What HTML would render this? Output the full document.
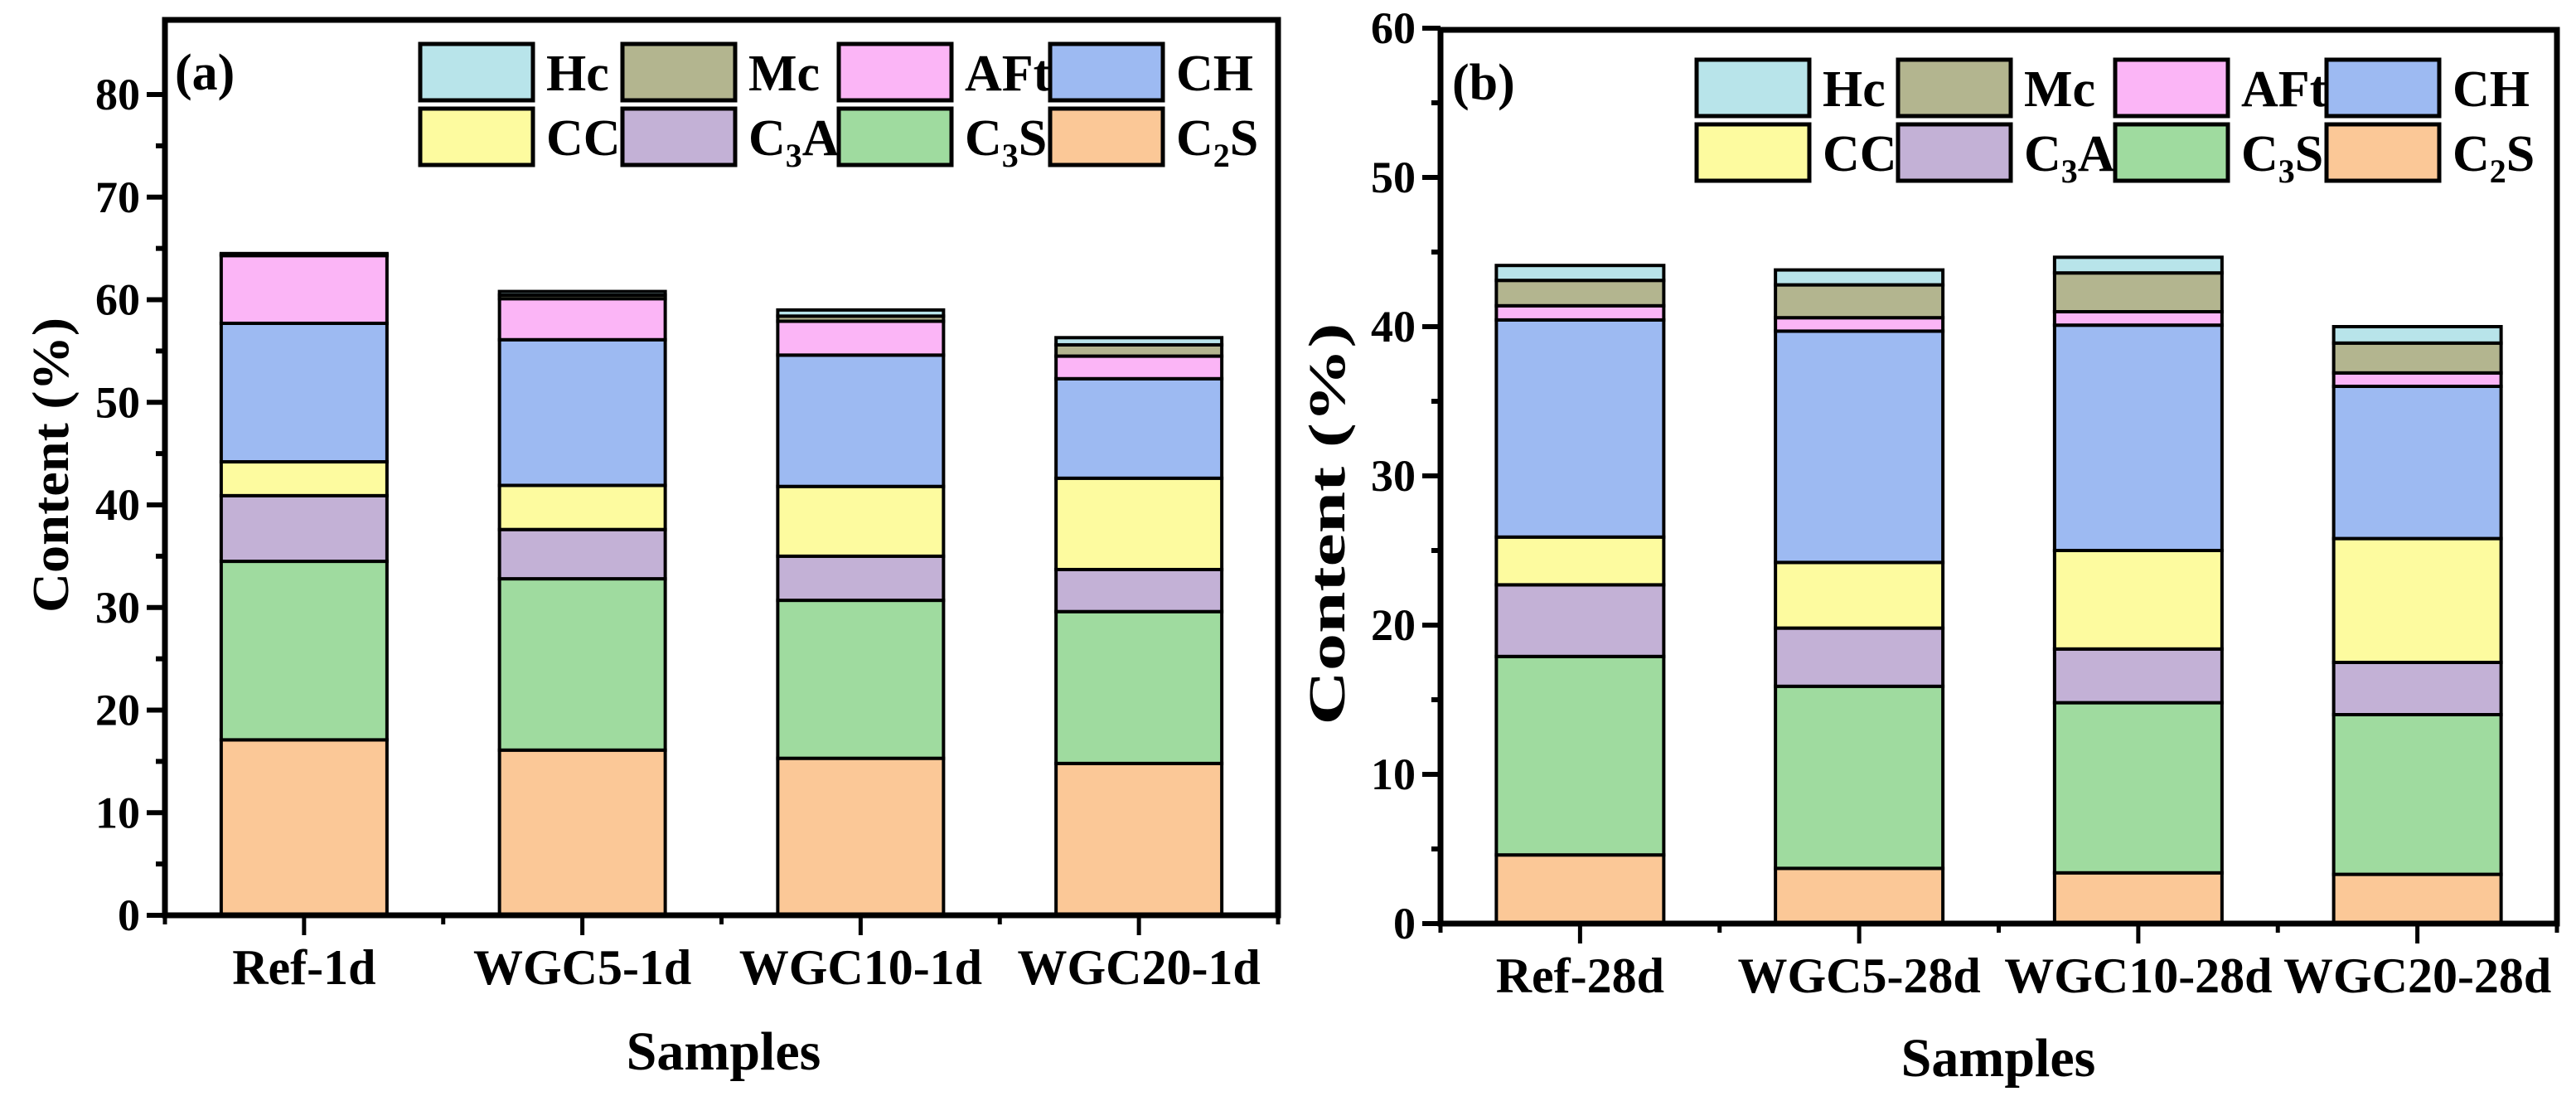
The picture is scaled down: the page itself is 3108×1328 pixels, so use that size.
<!DOCTYPE html>
<html><head><meta charset="utf-8"><style>
html,body{margin:0;padding:0;background:#fff;}
svg{display:block;}
text{font-family:"Liberation Serif",serif;font-weight:bold;fill:#000;}
</style></head>
<body>
<svg id="chart" width="3108" height="1328" viewBox="0 0 3108 1328" xmlns="http://www.w3.org/2000/svg"></svg>
<script>
const phases = ["C2S","C3S","C3A","CC","CH","AFt","Mc","Hc"];
const phaseColors = ["#fbc897","#9fdb9f","#c3b1d6","#fdfb9f","#9dbaf2","#fbb5f6","#b3b58f","#b8e4ea"];
const categoriesA = ["Ref-1d","WGC5-1d","WGC10-1d","WGC20-1d"];
const categoriesB = ["Ref-28d","WGC5-28d","WGC10-28d","WGC20-28d"];
// values per sample, ordered C2S,C3S,C3A,CC,CH,AFt,Mc,Hc
const valuesA = [
  [17.1,17.4,6.4,3.3,13.5,6.6,0.1,0.1],
  [16.1,16.7,4.8,4.3,14.2,4.0,0.35,0.35],
  [15.3,15.4,4.3,6.8,12.8,3.3,0.5,0.6],
  [14.8,14.8,4.1,8.9,9.7,2.2,1.1,0.7]
];
const valuesB = [
  [4.6,13.3,4.8,3.2,14.55,0.95,1.7,1.0],
  [3.7,12.2,3.9,4.4,15.5,0.9,2.2,1.0],
  [3.4,11.4,3.6,6.6,15.1,0.9,2.6,1.05],
  [3.3,10.7,3.5,8.3,10.2,0.9,2.0,1.1]
];
const ticksA = [0,10,20,30,40,50,60,70,80];
const ticksB = [0,10,20,30,40,50,60];

const NS="http://www.w3.org/2000/svg";
const svg=document.getElementById('chart');
function mk(tag,attrs,parent){const e=document.createElementNS(NS,tag);for(const k in attrs)e.setAttribute(k,attrs[k]);(parent||svg).appendChild(e);return e;}

function legendLabel(g,x,y,name){
  const t=mk('text',{x:x,y:y,'font-size':62},g);
  if(name==="C3A"||name==="C3S"||name==="C2S"){
    t.appendChild(document.createTextNode("C"));
    const s=mk('tspan',{'font-size':40,dy:14},t);s.textContent=name[1];
    const r=mk('tspan',{'font-size':62,dy:-14},t);r.textContent=name.slice(2);
  } else t.textContent=name;
  return t;
}

function panel(o){
  const g=mk('g',{});
  
  
  const yS=v=>o.y0-(v-0)*(o.y0-o.yTopPx)/(o.yMaxVal);
  const band=(o.right-o.left)/o.cats.length;
  const xC=i=>o.left+(i+0.5)*band;
  // bars
  o.vals.forEach((row,i)=>{
    let acc=0;
    row.forEach((v,j)=>{
      const r=mk('rect',{x:xC(i)-o.bw/2,y:yS(acc+v),width:o.bw,height:Math.max(0,yS(acc)-yS(acc+v)),fill:phaseColors[j],stroke:'#000','stroke-width':4},g);
      
      
      acc+=v;
    });
  });
  // frame
  const f=mk('rect',{x:o.left,y:o.top,width:o.right-o.left,height:o.y0-o.top,fill:'none',stroke:'#000','stroke-width':7},g);
  
  
  // y ticks
  o.ticks.forEach(t=>{
    const y=yS(t);
    mk('line',{x1:o.left-22,x2:o.left,y1:y,y2:y,stroke:'#000','stroke-width':6},g);
    const lb=mk('text',{x:o.left-30,y:y+18,'font-size':54,'text-anchor':'end'},g);
    lb.textContent=t;
    
    
    const m=t+5;
    if(m<=o.yMaxVal) mk('line',{x1:o.left-11,x2:o.left,y1:yS(m),y2:yS(m),stroke:'#000','stroke-width':6},g);
  });
  // x ticks
  o.cats.forEach((c,i)=>{
    mk('line',{x1:xC(i),x2:xC(i),y1:o.y0,y2:o.y0+24,stroke:'#000','stroke-width':5},g);
    mk('line',{x1:o.left+i*band,x2:o.left+i*band,y1:o.y0,y2:o.y0+11,stroke:'#000','stroke-width':5},g);
    const lb=mk('text',{x:xC(i),y:o.xLabY,'font-size':60,'text-anchor':'middle'},g);
    lb.textContent=c;
    
    
  });
  mk('line',{x1:o.right,x2:o.right,y1:o.y0,y2:o.y0+11,stroke:'#000','stroke-width':5},g);
  // axis titles
  const xt=mk('text',{x:o.samplesX,y:o.samplesY,'font-size':66,'text-anchor':'middle'},g);
  xt.textContent="Samples";
  
  
  const yt=mk('text',{x:0,y:0,'font-size':62,'text-anchor':'middle',textLength:o.ytLen,lengthAdjust:'spacingAndGlyphs',transform:`translate(${o.ytX},${o.ytY}) rotate(-90)`},g);
  yt.textContent="Content (%)";
  
  
  // panel label
  const pl=mk('text',{x:o.plX,y:o.plY,'font-size':62},g);
  pl.textContent=o.label;
  
  
  // legend
  const order=[7,6,5,4,3,2,1,0];
  order.forEach((pi,k)=>{
    const row=Math.floor(k/4),col=k%4;
    const bx=o.legX[col],by=o.legY[row];
    const lg=mk('g',{},g);
    
    
    mk('rect',{x:bx,y:by,width:136,height:68,fill:phaseColors[pi],stroke:'#000','stroke-width':5},lg);
    legendLabel(lg,bx+152,by+56,phases[pi]);
  });
}

panel({id:'panel-a',cats:categoriesA,vals:valuesA,ticks:ticksA,left:199,right:1542,top:24,y0:1104,yTopPx:114,yMaxVal:80,bw:200,
  xLabY:1187,samplesX:873,samplesY:1290,ytX:82,ytY:561,ytLen:356,plX:211,plY:108,label:'(a)',
  legX:[507,751,1012,1267],legY:[53,131]});
// note: yMaxVal/yTopPx define scale (80 at y=114); frame top extends above
panel({id:'panel-b',cats:categoriesB,vals:valuesB,ticks:ticksB,left:1738,right:3085,top:36,y0:1114,yTopPx:34,yMaxVal:60,bw:202,
  xLabY:1197,samplesX:2411,samplesY:1298,ytX:1622,ytY:632,ytLen:485,plX:1752,plY:120,label:'(b)',
  legX:[2047,2290,2552,2807],legY:[72,150]});
</script>
</body></html>
